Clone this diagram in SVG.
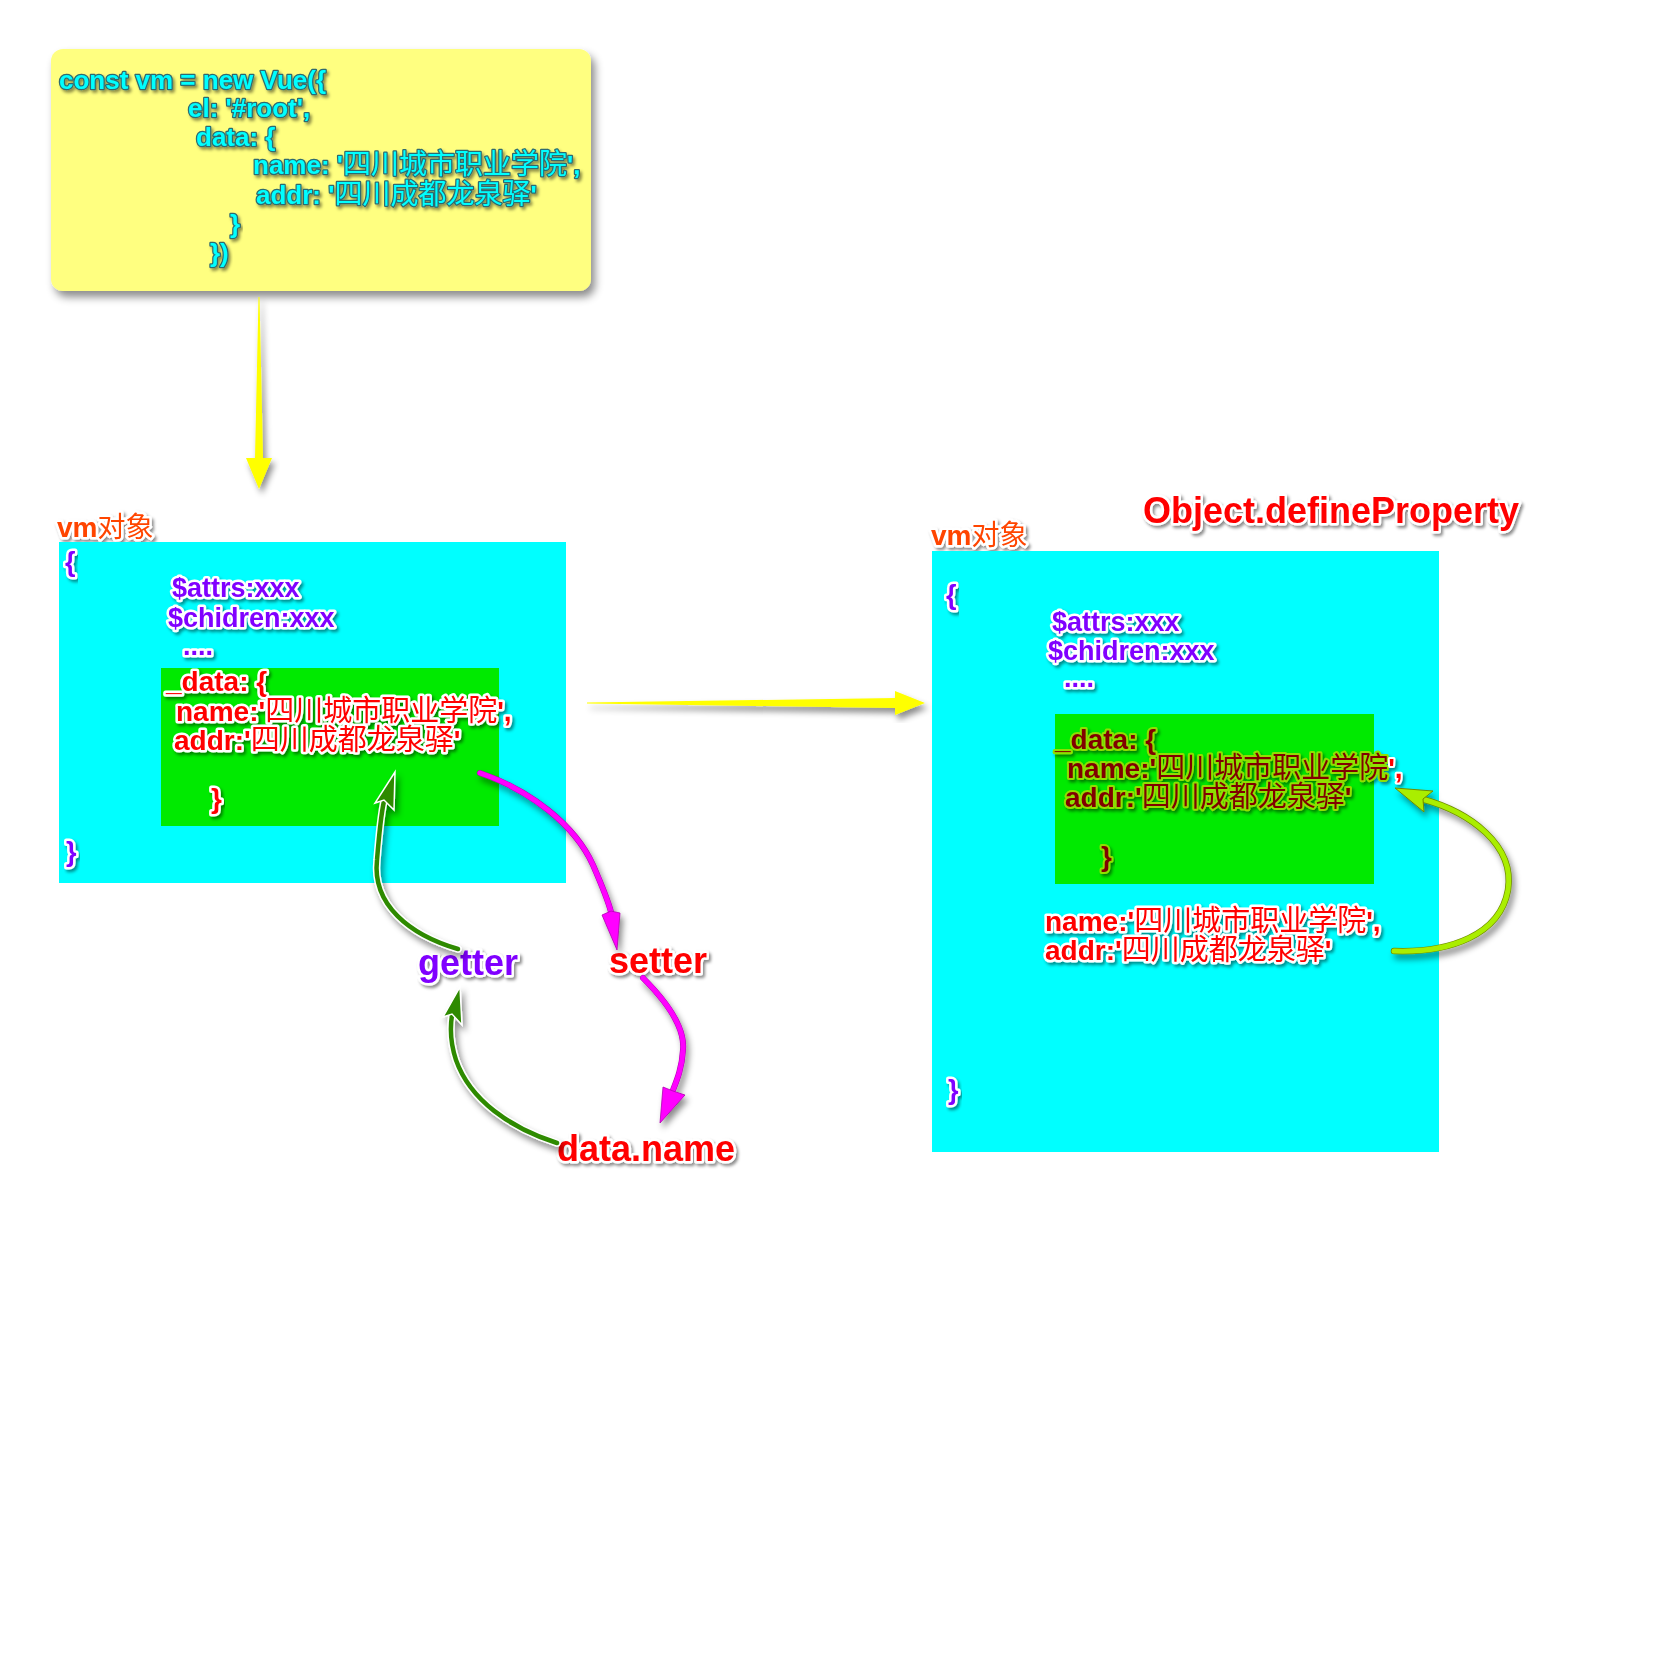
<svg xmlns="http://www.w3.org/2000/svg" width="1666" height="1677" viewBox="0 0 1666 1677">
<defs>
  <filter id="boxShadow" x="-10%" y="-10%" width="130%" height="130%">
    <feDropShadow dx="4" dy="6" stdDeviation="4" flood-color="#000" flood-opacity="0.45"/>
  </filter>
  <filter id="tshadow" x="-10%" y="-30%" width="130%" height="170%">
    <feDropShadow dx="2" dy="2.5" stdDeviation="1.6" flood-color="#000" flood-opacity="0.45"/>
  </filter>
  <filter id="ashadow" x="-20%" y="-20%" width="150%" height="150%">
    <feDropShadow dx="3" dy="5" stdDeviation="3" flood-color="#000" flood-opacity="0.45"/>
  </filter>
  <style>
    text { font-family: "Liberation Sans", "Noto Sans CJK SC", sans-serif; font-weight: bold; paint-order: stroke; stroke-linejoin: round; filter: url(#tshadow); }
    .cjk { font-weight: normal; font-size: 29px; }
    .code .cjk { font-size: 28px; }
    .code { font-size: 26px; fill: #00ffff; stroke: #2e6b70; stroke-width: 2.5px; }
    .purple { font-size: 27px; fill: #8000ff; stroke: #ffffff; stroke-width: 5px; }
    .red { font-size: 28px; fill: #ff0000; stroke: #ffffff; stroke-width: 5px; }
    .maroon { font-size: 28px; fill: #800000; stroke: #8ee000; stroke-width: 4px; }
    .vm { font-size: 28px; fill: #ff4400; stroke: #ffffff; stroke-width: 5px; }
    .vmc { font-weight: normal; }
    .big { font-size: 36px; stroke: #ffffff; stroke-width: 5px; }
    .yarrow { fill: #ffff00; filter: url(#ashadow); }
    .garrow-line { fill: none; stroke: #2e8a00; stroke-width: 4.5; stroke-linecap: round; }
    .garrow-out { fill: none; stroke: #ffffff; stroke-width: 7.5; stroke-linecap: round; }
    .garrow-head { fill: #2e8a00; stroke: #ffffff; stroke-width: 1.5; stroke-linejoin: miter; }
    .marrow-line { fill: none; stroke: #ff00ff; stroke-width: 5; stroke-linecap: round; }
    .marrow-out { fill: none; stroke: #b000b0; stroke-width: 6; stroke-linecap: round; }
    .marrow-head { fill: #ff00ff; stroke: #b000b0; stroke-width: 0.8; }
    .larrow-line { fill: none; stroke: #aaee00; stroke-width: 5; stroke-linecap: round; }
    .larrow-out { fill: none; stroke: #6f8a00; stroke-width: 6.5; stroke-linecap: round; }
    .larrow-head { fill: #aaee00; stroke: #6f8a00; stroke-width: 1; }
  </style>
</defs>
<rect width="1666" height="1677" fill="#ffffff"/>

<g id="vue-code">
  <rect x="51" y="49" width="540" height="242" rx="12" ry="12" fill="#ffff80" filter="url(#boxShadow)"/>
  <text class="code" x="59" y="89">const vm = new Vue({</text>
  <text class="code" x="188" y="117">el: '#root',</text>
  <text class="code" x="196" y="146">data: {</text>
  <text class="code" x="253" y="174">name: '<tspan class="cjk">四川城市职业学院</tspan>',</text>
  <text class="code" x="256" y="204">addr: '<tspan class="cjk">四川成都龙泉驿</tspan>'</text>
  <text class="code" x="230" y="233">}</text>
  <text class="code" x="210" y="262">})</text>
</g>

<g id="vm-left">
  <text class="vm" x="57" y="537">vm<tspan class="vmc">对象</tspan></text>
  <rect x="59" y="542" width="507" height="341" fill="#00ffff"/>
  <rect x="161" y="668" width="338" height="158" fill="#00ea00"/>
  <text class="purple" x="65" y="571">{</text>
  <text class="purple" x="172" y="597">$attrs:xxx</text>
  <text class="purple" x="168" y="627">$chidren:xxx</text>
  <text class="purple" x="183" y="655">....</text>
  <text class="red" x="166" y="691">_data: {</text>
  <text class="red" x="176" y="721">name:'<tspan class="cjk">四川城市职业学院</tspan>',</text>
  <text class="red" x="174" y="750">addr:'<tspan class="cjk">四川成都龙泉驿</tspan>'</text>
  <text class="red" x="211" y="808">}</text>
  <text class="purple" x="66" y="861">}</text>
</g>

<g id="vm-right">
  <text class="big" x="1143" y="523" fill="#ff0000">Object.defineProperty</text>
  <text class="vm" x="931" y="545">vm<tspan class="vmc">对象</tspan></text>
  <rect x="932" y="551" width="507" height="601" fill="#00ffff"/>
  <rect x="1055" y="714" width="319" height="170" fill="#00ea00"/>
  <text class="purple" x="946" y="604">{</text>
  <text class="purple" x="1052" y="631">$attrs:xxx</text>
  <text class="purple" x="1048" y="660">$chidren:xxx</text>
  <text class="purple" x="1064" y="687">....</text>
  <text class="maroon" x="1055" y="749">_data: {</text>
  <text class="maroon" x="1067" y="778">name:'<tspan class="cjk">四川城市职业学院</tspan><tspan fill="#ff0000" stroke="#ffffff">',</tspan></text>
  <text class="maroon" x="1065" y="807">addr:'<tspan class="cjk">四川成都龙泉驿</tspan>'</text>
  <text class="maroon" x="1101" y="866">}</text>
  <text class="red" x="1045" y="931">name:'<tspan class="cjk">四川城市职业学院</tspan>',</text>
  <text class="red" x="1045" y="960">addr:'<tspan class="cjk">四川成都龙泉驿</tspan>'</text>
  <text class="purple" x="948" y="1099">}</text>
</g>

<g id="getter"><text class="big" x="418" y="975" fill="#8000ff">getter</text></g>
<g id="setter"><text class="big" x="609" y="973" fill="#ff0000">setter</text></g>
<g id="data-name"><text class="big" x="557" y="1161" fill="#ff0000">data.name</text></g>

<g id="connectors">
  <polygon class="yarrow" points="258.5,297 259.5,297 263,458 272,458 259,489 246,458 255,458"/>
  <polygon class="yarrow" points="587,702.5 587,703.5 895,708 895,715 925,703 895,691 895,698"/>

  <g filter="url(#ashadow)">
    <path class="garrow-out" d="M458,949 C410,935 372,905 377,860 C379,835 381,815 384,801"/>
    <path class="garrow-line" d="M458,949 C410,935 372,905 377,860 C379,835 381,815 384,801"/>
    <polygon class="garrow-head" points="395,772 394,810 384,800 375,803"/>
  </g>
  <g filter="url(#ashadow)">
    <path class="garrow-out" d="M557,1143 C510,1128 470,1100 456,1060 C450,1042 450,1028 452,1015"/>
    <path class="garrow-line" d="M557,1143 C510,1128 470,1100 456,1060 C450,1042 450,1028 452,1015"/>
    <polygon class="garrow-head" points="460,987 462,1025 452,1014 443,1017"/>
  </g>
  <g filter="url(#ashadow)">
    <path class="marrow-out" d="M480,773 C530,790 575,825 593,865 C603,888 608,900 611,912"/>
    <path class="marrow-line" d="M480,773 C530,790 575,825 593,865 C603,888 608,900 611,912"/>
    <polygon class="marrow-head" points="617,950 602,915 611,911 620,913"/>
  </g>
  <g filter="url(#ashadow)">
    <path class="marrow-out" d="M643,978 C670,1005 685,1030 683,1050 C682,1068 677,1080 673,1090"/>
    <path class="marrow-line" d="M643,978 C670,1005 685,1030 683,1050 C682,1068 677,1080 673,1090"/>
    <polygon class="marrow-head" points="660,1123 663,1087 673,1091 685,1095"/>
  </g>
  <g filter="url(#ashadow)">
    <path class="larrow-out" d="M1394,951 C1450,953 1500,935 1508,890 C1515,845 1470,812 1422,799"/>
    <path class="larrow-line" d="M1394,951 C1450,953 1500,935 1508,890 C1515,845 1470,812 1422,799"/>
    <polygon class="larrow-head" points="1395,788 1433,791 1423,799 1424,812"/>
  </g>
</g>
</svg>
